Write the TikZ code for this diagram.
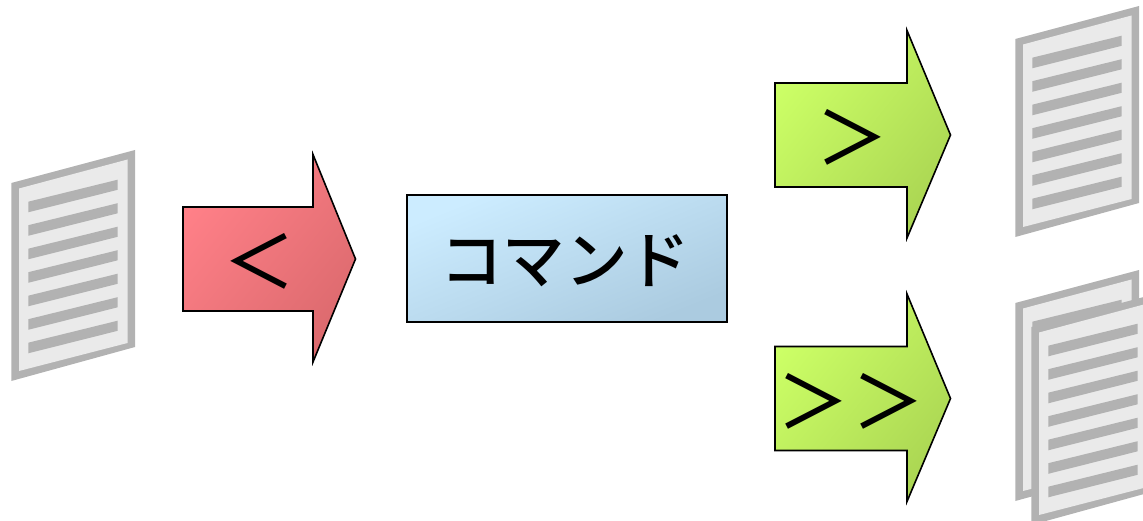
\documentclass[tikz,border=0pt]{standalone}
\usepackage{fontspec}
\newfontfamily\cjkfont{Noto Sans CJK JP Medium}
\definecolor{docedge}{HTML}{B2B2B2}
\definecolor{docfill}{HTML}{EAEAEA}
\definecolor{redA}{HTML}{FF8088}
\definecolor{redB}{HTML}{DC6A6E}
\definecolor{greenA}{HTML}{CCFF66}
\definecolor{greenB}{HTML}{ABD653}
\definecolor{blueA}{HTML}{CCECFF}
\definecolor{blueB}{HTML}{ABCBE0}
\tikzset{
  x=1pt,y=-1pt,
  flowarrow/.style={draw=black,line width=1.6pt,line join=miter,miter limit=10},
  redfill/.style={left color=redA,right color=redB,shading angle=51},
  greenfill/.style={left color=greenA,right color=greenB,shading angle=51},
  bluefill/.style={left color=blueA,right color=blueB,shading angle=22},
  cmdlabel/.style={inner sep=0pt,font=\cjkfont\fontsize{62.5}{63}\selectfont},
  symlabel/.style={inner sep=0pt,font=\cjkfont\fontsize{72}{72}\selectfont},
}
\newcommand{\docsheet}[2]{%
  \begin{scope}[shift={(#1,#2)}]
    \fill[docedge] (11.3,183) -- (135,150) -- (135,347) -- (11.3,381) -- cycle;
    \fill[docfill] (19,188.5) -- (127.5,159.5) -- (127.5,343) -- (19,371) -- cycle;
    \foreach \i in {0,...,6}{
      \fill[docedge] (28.3,{201.7+23.5*\i}) -- (117.7,{179.7+23.5*\i}) -- (117.7,{189.8+23.5*\i}) -- (28.3,{212.3+23.5*\i}) -- cycle;
    }
  \end{scope}}
\newcommand{\blockarrow}[5]{%
  \begin{scope}[shift={(#1,#2)}]
    \path[flowarrow,#3] (0,0) -- (#4,0) -- (#4,-52.5) -- (#5,52) -- (#4,155) -- (#4,104) -- (0,104) -- cycle;
  \end{scope}}
\begin{document}
\begin{tikzpicture}
\useasboundingbox (0,0) rectangle (1143,521);
\clip (0,0) rectangle (1143,521);
\docsheet{0}{0}
\docsheet{1004}{-144}
\docsheet{1004}{120}
\docsheet{1020}{144}
\blockarrow{183}{207}{redfill}{130}{172.5}
\blockarrow{775}{83}{greenfill}{132}{175.5}
\blockarrow{775}{346.5}{greenfill}{132}{175.5}
\node[draw=black,line width=1.6pt,outer sep=0pt,bluefill,minimum width=320pt,minimum height=127pt,inner sep=0pt,anchor=north west] (cmd) at (407,195) {};
\node[cmdlabel] (cmdtext) at (565,261) {コマンド};
\node[symlabel] (lt) at (259,261) {＜};
\node[symlabel] (gt) at (852,137) {＞};
\node[symlabel] (gtgt) at (851,401) {＞\kern3pt＞};
\end{tikzpicture}
\end{document}
